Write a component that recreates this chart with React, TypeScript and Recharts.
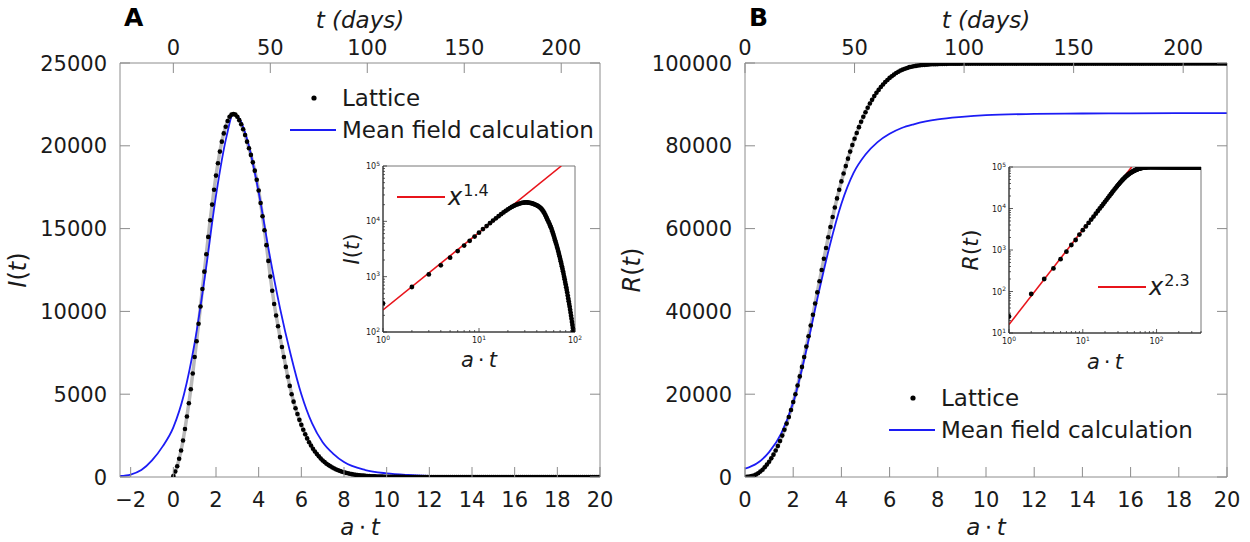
import React from 'react';
import { ComposedChart, Line, XAxis, YAxis, Legend, ReferenceArea } from 'recharts';

const FONT = '"DejaVu Sans", sans-serif';
const FRAME = '#8c8c8c';
const BLUE = '#1c1cf5';
const INK = '#1a1a1a';

// ---- axes ----
const atTicksA = [-2, 0, 2, 4, 6, 8, 10, 12, 14, 16, 18, 20];
const atTicksB = [0, 2, 4, 6, 8, 10, 12, 14, 16, 18, 20];
const dayTicks = [0, 50, 100, 150, 200];
const iTicks = [0, 5000, 10000, 15000, 20000, 25000];
const rTicks = [0, 20000, 40000, 60000, 80000, 100000];

// ---- lattice runs, one value per day (day 0, 1, 2, ...) ----
const latticeI = [
  60, 330, 650, 1100, 1600, 2200, 2900, 3650, 4450, 5300,
  6250, 7250, 8200, 9250, 10300, 11350, 12400, 13450, 14500, 15500,
  16450, 17350, 18200, 18950, 19650, 20250, 20750, 21150, 21500, 21750,
  21880, 21920, 21880, 21750, 21550, 21300, 21000, 20650, 20250, 19850,
  19450, 19000, 18500, 17950, 17300, 16550, 15750, 14900, 14000, 13050,
  12100, 11250, 10450, 9750, 9100, 8450, 7850, 7250, 6650, 6050,
  5500, 5000, 4550, 4150, 3800, 3450, 3150, 2850, 2580, 2330,
  2100, 1900, 1710, 1540, 1390, 1250, 1120, 1000, 900, 800,
  720, 645, 575, 515, 455, 405, 360, 320, 285, 252,
  222, 196, 173, 152, 134, 118, 104, 92, 81, 71,
  62, 55, 48, 42, 37, 32, 28, 25, 22, 19,
  17, 15, 13, 11, 10, 9, 8, 7, 6, 5,
  4, 4, 3, 3, 3, 2, 2, 2, 2, 1,
  1, 1, 1, 1, 1, 1, 1, 1, 1, 1,
  1, 1, 1, 1, 1, 1, 1, 1, 1, 1,
  0, 0, 0, 0, 0, 0, 0, 0, 0, 0,
  0, 0, 0, 0, 0, 0, 0, 0, 0, 0,
  0, 0, 0, 0, 0, 0, 0, 0, 0, 0,
  0, 0, 0, 0, 0, 0, 0, 0, 0, 0,
  0, 0, 0, 0, 0, 0, 0, 0, 0, 0,
  0, 0, 0, 0, 0, 0, 0, 0, 0, 0,
  0, 0, 0, 0, 0, 0, 0, 0, 0, 0,
  0,
];

const latticeR = [
  5, 25, 87, 200, 360, 600, 910, 1320, 1740, 2350,
  3000, 3700, 4500, 5400, 6400, 7500, 8700, 10000, 11400, 12900,
  14500, 16200, 18100, 20000, 22100, 24300, 26600, 29000, 31500, 34000,
  36600, 39200, 41900, 44600, 47300, 50000, 52700, 55300, 57900, 60400,
  62800, 65100, 67300, 69400, 71400, 73300, 75100, 76900, 78600, 80200,
  81700, 83100, 84500, 85800, 87000, 88100, 89200, 90200, 91100, 92000,
  92800, 93500, 94200, 94800, 95400, 95900, 96400, 96800, 97200, 97600,
  97900, 98200, 98400, 98600, 98800, 99000, 99100, 99200, 99300, 99400,
  99450, 99500, 99550, 99600, 99640, 99680, 99700, 99720, 99740, 99760,
  99780, 99790, 99800, 99810, 99820, 99830, 99835, 99840, 99845, 99850,
  99850, 99850, 99850, 99850, 99850, 99850, 99850, 99850, 99850, 99850,
  99850, 99850, 99850, 99850, 99850, 99850, 99850, 99850, 99850, 99850,
  99850, 99850, 99850, 99850, 99850, 99850, 99850, 99850, 99850, 99850,
  99850, 99850, 99850, 99850, 99850, 99850, 99850, 99850, 99850, 99850,
  99850, 99850, 99850, 99850, 99850, 99850, 99850, 99850, 99850, 99850,
  99860, 99860, 99860, 99860, 99860, 99860, 99860, 99860, 99860, 99860,
  99860, 99860, 99860, 99860, 99860, 99860, 99860, 99860, 99860, 99860,
  99860, 99860, 99860, 99860, 99860, 99860, 99860, 99860, 99860, 99860,
  99860, 99860, 99860, 99860, 99860, 99860, 99860, 99860, 99860, 99860,
  99860, 99860, 99860, 99860, 99860, 99860, 99860, 99860, 99860, 99860,
  99870, 99870, 99870, 99870, 99870, 99870, 99870, 99870, 99870, 99870,
  99870, 99870, 99870, 99870, 99870, 99870, 99870, 99870, 99870, 99870,
  99870, 99870, 99870, 99870, 99870, 99870, 99870, 99870, 99870, 99870,
  99870, 99870, 99870, 99870, 99870, 99870, 99870, 99870, 99870, 99870,
  99870, 99870, 99870, 99870, 99870, 99870, 99870, 99870, 99870, 99870,
  99875, 99875, 99875, 99875, 99875, 99875, 99875, 99875, 99875, 99875,
  99875, 99875, 99875, 99875, 99875, 99875, 99875, 99875, 99875, 99875,
  99875, 99875, 99875, 99875, 99875, 99875, 99875, 99875, 99875, 99875,
  99875, 99875, 99875, 99875, 99875, 99875, 99875, 99875, 99875, 99875,
  99875, 99875, 99875, 99875, 99875, 99875, 99875, 99875, 99875, 99875,
  99880, 99880, 99880, 99880, 99880, 99880, 99880, 99880, 99880, 99880,
  99880, 99880, 99880, 99880, 99880, 99880, 99880, 99880, 99880, 99880,
  99880, 99880, 99880, 99880, 99880, 99880, 99880, 99880, 99880, 99880,
  99880, 99880, 99880, 99880, 99880, 99880, 99880, 99880, 99880, 99880,
  99880, 99880, 99880, 99880, 99880, 99880, 99880, 99880, 99880, 99880,
  99885, 99885, 99885, 99885, 99885, 99885, 99885, 99885, 99885, 99885,
  99885, 99885, 99885, 99885, 99885, 99885, 99885, 99885, 99885, 99885,
  99885, 99885, 99885, 99885, 99885, 99885, 99885, 99885, 99885, 99885,
  99885, 99885, 99885, 99885, 99885, 99885, 99885, 99885, 99885, 99885,
  99885, 99885, 99885, 99885, 99885, 99885, 99885, 99885, 99885, 99885,
  99890,
];

// ---- mean field curves, against a·t ----
const meanAtA = [-2.5, -2, -1.5, -1, -0.5, 0, 0.5, 1, 1.5, 2, 2.5, 2.8, 3, 3.5, 4, 4.5, 5, 5.5, 6, 6.5, 7, 7.5, 8, 9, 10, 11, 12, 14, 16, 18, 20];
const meanI = [60, 150, 420, 1000, 1850, 3000, 5000, 8100, 12300, 17000, 20600, 21900, 21800, 20200, 17200, 13500, 10200, 7400, 5000, 3250, 2100, 1400, 900, 420, 220, 120, 60, 15, 4, 1, 0];

const meanAtB = [0, 0.5, 1, 1.5, 2, 2.5, 3, 3.5, 4, 4.5, 5, 5.5, 6, 6.5, 7, 7.5, 8, 9, 10, 12, 14, 16, 20];
const meanR = [2000, 3300, 6000, 10500, 18000, 29500, 43000, 55500, 66000, 73400, 77900, 80900, 82900, 84300, 85200, 85900, 86400, 87000, 87400, 87700, 87800, 87850, 87900];

// ---- inset power-law fits (end points) ----
const fitXA = [1, 72];
const fitYA = [250, 100000];
const fitXB = [1, 46];
const fitYB = [16, 100000];

// ---- inset log ticks ----
const logXTicksA = [1, 2, 3, 4, 5, 6, 7, 8, 9, 10, 20, 30, 40, 50, 60, 70, 80, 90, 100];
const logYTicksA = [100, 200, 300, 400, 500, 600, 700, 800, 900, 1000, 2000, 3000, 4000, 5000, 6000, 7000, 8000, 9000, 10000, 20000, 30000, 40000, 50000, 60000, 70000, 80000, 90000, 100000];
const logXTicksB = [1, 2, 3, 4, 5, 6, 7, 8, 9, 10, 20, 30, 40, 50, 60, 70, 80, 90, 100, 200, 300, 400];
const logYTicksB = [10, 20, 30, 40, 50, 60, 70, 80, 90, 100, 200, 300, 400, 500, 600, 700, 800, 900, 1000, 2000, 3000, 4000, 5000, 6000, 7000, 8000, 9000, 10000, 20000, 30000, 40000, 50000, 60000, 70000, 80000, 90000, 100000];

const latticeIPts = latticeI.map((y, t) => ({ t, y }));
const latticeRPts = latticeR.map((y, t) => ({ t, y }));
const meanIPts = meanAtA.map((x, i) => ({ x, y: meanI[i] }));
const meanRPts = meanAtB.map((x, i) => ({ x, y: meanR[i] }));
const insetIPts = latticeI.slice(1, 101).map((y, i) => ({ x: i + 1, y }));
const insetRPts = latticeR.slice(1).map((y, i) => ({ x: i + 1, y }));
const fitAPts = fitXA.map((x, i) => ({ x, y: fitYA[i] }));
const fitBPts = fitXB.map((x, i) => ({ x, y: fitYB[i] }));

const fmt = (v: number) => (v < 0 ? '\u2212' + Math.abs(v) : String(v));

// ticks point into the plot, labels sit outside
const tickLeft = (props: any) => {
  const { x, y, payload } = props;
  return (
    <g>
      <line x1={x} y1={y} x2={x + 10} y2={y} stroke={FRAME} />
      <text x={x - 13} y={y + 7.5} textAnchor="end" fontSize={21} fontFamily={FONT} fill={INK}>
        {fmt(payload.value)}
      </text>
    </g>
  );
};
const tickRight = (props: any) => {
  const { x, y } = props;
  return <line x1={x} y1={y} x2={x - 10} y2={y} stroke={FRAME} />;
};
const tickBottom = (props: any) => {
  const { x, y, payload } = props;
  return (
    <g>
      <line x1={x} y1={y} x2={x} y2={y - 10} stroke={FRAME} />
      <text x={x} y={y + 30} textAnchor="middle" fontSize={21} fontFamily={FONT} fill={INK}>
        {fmt(payload.value)}
      </text>
    </g>
  );
};
const tickTop = (props: any) => {
  const { x, y, payload } = props;
  return (
    <g>
      <line x1={x} y1={y} x2={x} y2={y + 10} stroke={FRAME} />
      <text x={x} y={y - 8} textAnchor="middle" fontSize={21} fontFamily={FONT} fill={INK}>
        {fmt(payload.value)}
      </text>
    </g>
  );
};

const logTick = (side: 'left' | 'bottom') => (props: any) => {
  const { x, y, payload } = props;
  const lg = Math.log10(payload.value);
  const e = Math.round(lg);
  const major = Math.abs(lg - e) < 1e-9;
  const len = major ? 4 : 2;
  if (side === 'left') {
    return (
      <g>
        <line x1={x} y1={y} x2={x + len} y2={y} stroke="#333" strokeWidth={0.8} />
        {major && (
          <text x={x - 3} y={y + 3} textAnchor="end" fontSize={8} fontFamily={FONT} fill={INK}>
            10<tspan dy={-3.5} fontSize={6}>{e}</tspan>
          </text>
        )}
      </g>
    );
  }
  return (
    <g>
      <line x1={x} y1={y} x2={x} y2={y - len} stroke="#333" strokeWidth={0.8} />
      {major && (
        <text x={x} y={y + 11} textAnchor="middle" fontSize={8} fontFamily={FONT} fill={INK}>
          10<tspan dy={-3.5} fontSize={6}>{e}</tspan>
        </text>
      )}
    </g>
  );
};

const MainLegend = () => (
  <div style={{ position: 'relative', width: 320, height: 64, fontFamily: FONT, fontSize: 23, color: INK }}>
    <svg width={50} height={64} style={{ position: 'absolute', left: 0, top: 0 }}>
      <circle cx={26} cy={14} r={2.6} fill="#000" />
      <line x1={2} y1={46} x2={48} y2={46} stroke={BLUE} strokeWidth={2} />
    </svg>
    <div style={{ position: 'absolute', left: 54, top: 0, lineHeight: '28px', whiteSpace: 'nowrap' }}>Lattice</div>
    <div style={{ position: 'absolute', left: 54, top: 32, lineHeight: '28px', whiteSpace: 'nowrap' }}>Mean field calculation</div>
  </div>
);

const FitLegend = ({ power }: { power: string }) => (
  <div style={{ position: 'relative', width: 110, height: 28, fontFamily: FONT, color: INK }}>
    <svg width={52} height={28} style={{ position: 'absolute', left: 0, top: 0 }}>
      <line x1={2} y1={14} x2={50} y2={14} stroke="#e8141b" strokeWidth={2} />
    </svg>
    <div style={{ position: 'absolute', left: 53, top: 0, lineHeight: '28px', fontSize: 24, whiteSpace: 'nowrap' }}>
      <span style={{ fontStyle: 'italic' }}>x</span>
      <span style={{ fontSize: 16, position: 'relative', top: -9, marginLeft: 1 }}>{power}</span>
    </div>
  </div>
);

const PanelA = () => (
  <ComposedChart width={620} height={542} margin={{ top: 33, right: 0, bottom: 35, left: 60 }}>
    <XAxis xAxisId="at" dataKey="x" type="number" domain={[-2.5, 20]} allowDataOverflow ticks={atTicksA} interval={0}
      tick={tickBottom} tickLine={false} tickSize={0} tickMargin={0} height={30} axisLine={{ stroke: FRAME }} />
    <XAxis xAxisId="day" orientation="top" dataKey="t" type="number" domain={[-27.5, 220]} allowDataOverflow ticks={dayTicks} interval={0}
      tick={tickTop} tickLine={false} tickSize={0} tickMargin={0} height={30} axisLine={{ stroke: FRAME }} />
    <YAxis yAxisId="v" type="number" domain={[0, 25000]} allowDataOverflow ticks={iTicks} interval={0}
      tick={tickLeft} tickLine={false} tickSize={0} tickMargin={0} width={60} axisLine={{ stroke: FRAME }} />
    <YAxis yAxisId="r" orientation="right" type="number" domain={[0, 25000]} allowDataOverflow ticks={iTicks} interval={0}
      tick={tickRight} tickLine={false} tickSize={0} tickMargin={0} width={20} axisLine={{ stroke: FRAME }} />
    <Line xAxisId="day" yAxisId="v" data={latticeIPts} dataKey="y" stroke="#b9b9b9" strokeWidth={3.5}
      dot={{ r: 2.3, fill: '#000', stroke: 'none' }} isAnimationActive={false} />
    <Line xAxisId="at" yAxisId="v" data={meanIPts} dataKey="y" type="monotone" stroke={BLUE} strokeWidth={1.8}
      dot={false} isAnimationActive={false} />
    <Legend layout="vertical" align="center" verticalAlign="middle" content={() => <MainLegend />}
      wrapperStyle={{ left: 288, top: 84, width: 320, height: 64 }} />
  </ComposedChart>
);

const PanelB = () => (
  <ComposedChart width={625} height={542} margin={{ top: 33, right: 3, bottom: 35, left: 60 }}>
    <XAxis xAxisId="at" dataKey="x" type="number" domain={[0, 20]} allowDataOverflow ticks={atTicksB} interval={0}
      tick={tickBottom} tickLine={false} tickSize={0} tickMargin={0} height={30} axisLine={{ stroke: FRAME }} />
    <XAxis xAxisId="day" orientation="top" dataKey="t" type="number" domain={[0, 220]} allowDataOverflow ticks={dayTicks} interval={0}
      tick={tickTop} tickLine={false} tickSize={0} tickMargin={0} height={30} axisLine={{ stroke: FRAME }} />
    <YAxis yAxisId="v" type="number" domain={[0, 100000]} allowDataOverflow ticks={rTicks} interval={0}
      tick={tickLeft} tickLine={false} tickSize={0} tickMargin={0} width={60} axisLine={{ stroke: FRAME }} />
    <YAxis yAxisId="r" orientation="right" type="number" domain={[0, 100000]} allowDataOverflow ticks={rTicks} interval={0}
      tick={tickRight} tickLine={false} tickSize={0} tickMargin={0} width={20} axisLine={{ stroke: FRAME }} />
    <Line xAxisId="day" yAxisId="v" data={latticeRPts} dataKey="y" stroke="#b9b9b9" strokeWidth={3.5}
      dot={{ r: 2.3, fill: '#000', stroke: 'none' }} isAnimationActive={false} />
    <Line xAxisId="at" yAxisId="v" data={meanRPts} dataKey="y" type="monotone" stroke={BLUE} strokeWidth={1.8}
      dot={false} isAnimationActive={false} />
    <Legend layout="vertical" align="center" verticalAlign="middle" content={() => <MainLegend />}
      wrapperStyle={{ left: 262, top: 384, width: 320, height: 64 }} />
  </ComposedChart>
);

const Inset = ({ pts, fit, xMax, yMin, xTicks, yTicks, margin, power, legendPos }: any) => (
  <ComposedChart width={270} height={230} margin={margin}>
    <XAxis dataKey="x" type="number" scale="log" domain={[1, xMax]} allowDataOverflow ticks={xTicks} interval={0}
      tick={logTick('bottom')} tickLine={false} tickSize={0} tickMargin={0} height={10} axisLine={{ stroke: '#222' }} />
    <YAxis type="number" scale="log" domain={[yMin, 100000]} allowDataOverflow ticks={yTicks} interval={0}
      tick={logTick('left')} tickLine={false} tickSize={0} tickMargin={0} width={20} axisLine={{ stroke: '#222' }} />
    <ReferenceArea x1={1} x2={xMax} y1={yMin} y2={100000} fill="none" stroke="#777" strokeWidth={1} />
    <Line data={pts} dataKey="y" stroke="none" strokeWidth={0} dot={{ r: 2.4, fill: '#000', stroke: 'none' }}
      isAnimationActive={false} />
    <Line data={fit} dataKey="y" stroke="#e8141b" strokeWidth={1.6} dot={false} isAnimationActive={false} />
    <Legend layout="vertical" align="center" verticalAlign="middle" content={() => <FitLegend power={power} />}
      wrapperStyle={{ left: legendPos[0], top: legendPos[1], width: 110, height: 28 }} />
  </ComposedChart>
);

const It = ({ v }: { v: string }) => <tspan fontStyle="italic">{v}</tspan>;

const RotLabel = ({ cx, cy, fs, letter }: { cx: number; cy: number; fs: number; letter: string }) => (
  <text x={cx} y={cy + 0.31 * fs} transform={`rotate(-90 ${cx} ${cy})`} textAnchor="middle" fontSize={fs}
    fontFamily={FONT} fill={INK}>
    <It v={letter} />(<It v="t" />)
  </text>
);

const AtLabel = ({ cx, base, fs }: { cx: number; base: number; fs: number }) => (
  <text x={cx} y={base} textAnchor="middle" fontSize={fs} fontFamily={FONT} fill={INK}>
    <It v="a" />{'\u2009\u22C5\u2009'}<It v="t" />
  </text>
);

export default function App() {
  return (
    <div style={{ position: 'absolute', left: 0, top: 0, width: 1250, height: 542, background: '#fff', fontFamily: FONT }}>
      <div style={{ position: 'absolute', left: 0, top: 0 }}>
        <PanelA />
      </div>
      <div style={{ position: 'absolute', left: 625, top: 0 }}>
        <PanelB />
      </div>
      <div style={{ position: 'absolute', left: 330, top: 150 }}>
        <Inset pts={insetIPts} fit={fitAPts} xMax={100} yMin={100} xTicks={logXTicksA} yTicks={logYTicksA}
          margin={{ top: 16, right: 25, bottom: 38, left: 33 }} power="1.4" legendPos={[65, 33]} />
      </div>
      <div style={{ position: 'absolute', left: 955, top: 150 }}>
        <Inset pts={insetRPts} fit={fitBPts} xMax={400} yMin={10} xTicks={logXTicksB} yTicks={logYTicksB}
          margin={{ top: 17, right: 24, bottom: 37, left: 34 }} power="2.3" legendPos={[141, 123]} />
      </div>
      <svg width={1250} height={542} style={{ position: 'absolute', left: 0, top: 0, pointerEvents: 'none' }}>
        <text x={124} y={26} fontSize={25} fontWeight="bold" fontFamily={FONT} fill="#000">A</text>
        <text x={749} y={26} fontSize={25} fontWeight="bold" fontFamily={FONT} fill="#000">B</text>
        <text x={360} y={28} textAnchor="middle" fontSize={23} fontStyle="italic" fontFamily={FONT} fill={INK}>t (days)</text>
        <text x={986} y={28} textAnchor="middle" fontSize={23} fontStyle="italic" fontFamily={FONT} fill={INK}>t (days)</text>
        <AtLabel cx={360} base={535} fs={23} />
        <AtLabel cx={986} base={535} fs={23} />
        <RotLabel cx={19} cy={270} fs={24} letter="I" />
        <RotLabel cx={633} cy={270} fs={24} letter="R" />
        <RotLabel cx={352} cy={249} fs={21} letter="I" />
        <RotLabel cx={971} cy={250} fs={22} letter="R" />
        <AtLabel cx={479} base={367} fs={21} />
        <AtLabel cx={1105} base={369} fs={21} />
      </svg>
    </div>
  );
}
